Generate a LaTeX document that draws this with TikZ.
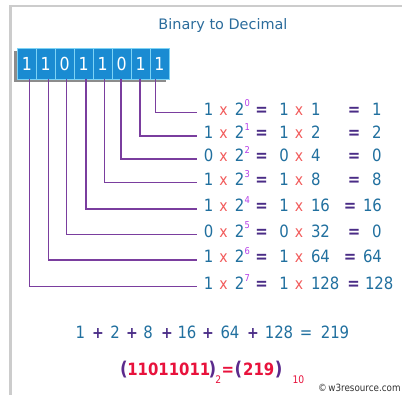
\documentclass[tikz,border=0pt]{standalone}
\usepackage{fontspec}
\setmainfont{DejaVu Sans}[FakeStretch=0.88]
\newfontfamily\titlefont{DejaVu Sans}
\definecolor{txtblue}{HTML}{21709F}
\definecolor{xred}{HTML}{F25C5C}
\definecolor{supmag}{HTML}{B63FE8}
\definecolor{eqpur}{HTML}{4A2C86}
\definecolor{linepur}{HTML}{7A3E9E}
\definecolor{cellblue}{HTML}{1A8BD2}
\definecolor{celledge}{HTML}{7DD3F5}
\definecolor{framegray}{HTML}{CCCCCC}
\definecolor{redb}{HTML}{E8123C}
\definecolor{parpur}{HTML}{5B2A8C}
\definecolor{titleblue}{HTML}{2B6C9C}
\begin{document}
\begin{tikzpicture}[x=1bp,y=-1bp,
  every node/.style={inner sep=0pt, outer sep=0pt},
  rowtxt/.style={anchor=base, font=\fontsize{17}{20}\selectfont, text=txtblue},
  multx/.style={anchor=base, font=\fontsize{16}{18}\selectfont, text=xred},
  supx/.style={anchor=base west, font=\fontsize{9.5}{11}\selectfont, text=supmag},
  eqx/.style={anchor=base, font=\bfseries\fontsize{17}{20}\selectfont, text=eqpur},
  plusx/.style={anchor=base, font=\bfseries\fontsize{16}{20}\selectfont, text=eqpur},
  conn/.style={draw=linepur, line width=1.5pt},
  cellbox/.style={draw=celledge, line width=0.8pt, fill=cellblue, minimum width=18.96bp, minimum height=31bp, anchor=north west, text=white, font=\fontsize{18}{20}\selectfont},
  redtxt/.style={anchor=base, font=\bfseries\fontsize{17}{20}\selectfont, text=redb},
  parx/.style={anchor=base, font=\bfseries\fontsize{19}{22}\selectfont, text=parpur},
  subx/.style={anchor=base, font=\fontsize{10.5}{13}\selectfont, text=redb}
]
\useasboundingbox (0,0) rectangle (402,395);
\clip (0,0) rectangle (402,395);
\fill[white] (0,0) rectangle (402,395);
% frame
\draw[framegray, line width=2bp] (10.5,396) -- (10.5,6) -- (403,6);
% title
\node[anchor=base, font=\titlefont\fontsize{14.5}{17}\selectfont, text=titleblue] (title) at (223,29.3) {Binary to Decimal};
% shadow of binary box
\fill[black!60, opacity=0.75] (14.3,51.3) rectangle (166,82.3);
% cells
\foreach \i/\d in {0/1,1/1,2/0,3/1,4/1,5/0,6/1,7/1}{
  \node[cellbox] (c\i) at ({17.3+\i*18.96},48.3) {\d};
}
% rows
\foreach \k/\y/\b/\v/\r/\ex/\rx/\lx in {
  0/112.3/1/1/1/354/372/155.7,
  1/136/1/2/2/354/372/140,
  2/159/0/4/0/354/372/121,
  3/182.7/1/8/8/354/372/104.3,
  4/209/1/16/16/350/363/86,
  5/234.3/0/32/0/354/372/66.7,
  6/260/1/64/64/350/363/48.3,
  7/286.7/1/128/128/353.5/365/29.3}{
  \pgfmathsetmacro\by{\y+2.9}
  \node[rowtxt] (b\k) at (208.5,\by) {\b};
  \node[multx] (xa\k) at (223.5,\by) {x};
  \node[rowtxt] (two\k) at (239.5,\by) {2};
  \node[supx] (s\k) at (244.5,\by-8.5) {\k};
  \node[eqx] (qa\k) at (261.5,\by) {=};
  \node[rowtxt] (bb\k) at (284,\by) {\b};
  \node[multx] (xb\k) at (299,\by) {x};
  \node[rowtxt, anchor=base west] (v\k) at (311,\by) {\v};
  \node[eqx] (qb\k) at (\ex,\by) {=};
  \node[rowtxt, anchor=base west] (res\k) at (\rx,\by) {\r};
  \coordinate (p\k) at (\lx,79.3);
  \coordinate (e\k) at (196.7,\y);
  \draw[conn] (p\k) |- (e\k);
}
% sum line
\foreach \n/\t/\x in {s1/1/80.3, s2/2/115, s3/8/148, s4/16/187, s5/64/230, s6/128/279, s7/219/335}{
  \node[rowtxt] (\n) at (\x,338) {\t};
}
\foreach \n/\x in {pl1/98, pl2/132, pl3/167, pl4/208, pl5/253}{
  \node[plusx] (\n) at (\x,338) {+};
}
\node[rowtxt] (sumeq) at (306,338) {=};
% formula
\node[parx] (po1) at (124,375.5) {(};
\node[redtxt] (bin) at (168.8,375) {11011011};
\node[parx] (pc1) at (212.5,375.5) {)};
\node[subx] (sub2) at (218.3,383) {2};
\node[redtxt] (feq) at (227.8,375) {=};
\node[parx] (po2) at (238.5,375.5) {(};
\node[redtxt] (dec) at (258.8,375) {219};
\node[parx] (pc2) at (278.8,375.5) {)};
\node[subx] (sub10) at (298.5,383) {10};
% copyright
\node[anchor=base west, font=\fontsize{10}{12}\selectfont, text=black!80] (copy) at (318,391) {\textcopyright\,w3resource.com};
\end{tikzpicture}
\end{document}
